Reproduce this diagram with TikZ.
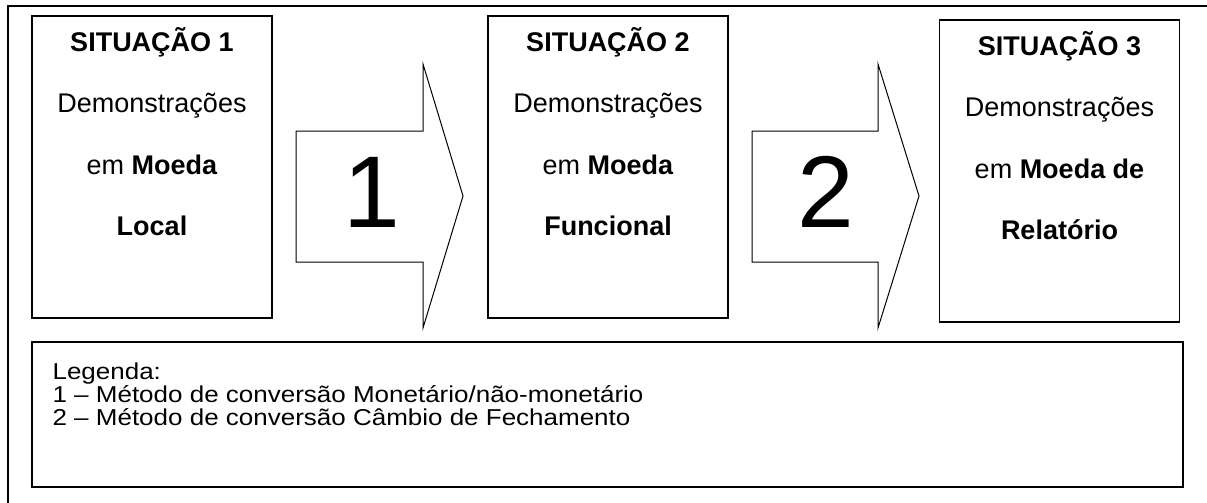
\documentclass[tikz,border=0pt]{standalone}
\usepackage{fontspec}
\setmainfont{Liberation Sans}
\usetikzlibrary{positioning}
\tikzset{caixa/.style={draw,line width=1.3pt,inner sep=0pt,outer sep=0pt,minimum width=240pt,minimum height=302pt}}
\tikzset{textocaixa/.style={align=center,inner sep=0pt,font=\fontsize{27}{61.5}\selectfont}}
\tikzset{seta/.style={draw,line width=1pt,line join=miter}}
\tikzset{numero/.style={inner sep=0pt,font=\fontsize{102}{110}\selectfont}}

\begin{document}
\begin{tikzpicture}[x=1pt,y=-1pt]
            \useasboundingbox (0,0) rectangle (1207,503);
            \draw[line width=1.3pt] (8,503) -- (8,6) -- (1207,6);

            \node[caixa] (s1) at (152,167) {};
            \node[caixa] (s2) at (608,167) {};
            \node[caixa] (s3) at (1059.5,171) {};

            \node[textocaixa,below=11pt of s1.north] (t1) {\textbf{SITUAÇÃO 1}\\Demonstrações\\em \textbf{Moeda}\\\textbf{Local}};
            \node[textocaixa,below=11pt of s2.north] (t2) {\textbf{SITUAÇÃO 2}\\Demonstrações\\em \textbf{Moeda}\\\textbf{Funcional}};
            \node[textocaixa,below=11pt of s3.north] (t3) {\textbf{SITUAÇÃO 3}\\Demonstrações\\em \textbf{Moeda de}\\\textbf{Relatório}};

            \draw[seta] (296,131) -- (423,131) -- (423,64) -- (463,196) -- (423,328) -- (423,262) -- (296,262) -- cycle;
            \draw[seta] (752,131) -- (878,131) -- (878,64) -- (919,196) -- (878,328) -- (878,262) -- (752,262) -- cycle;
            \node[numero] (n1) at (372,192) {1};
            \node[numero] (n2) at (826,192) {2};

            \node[draw,line width=1.3pt,inner sep=0pt,minimum width=1151pt,minimum height=145pt] (leg) at (607.5,414.5) {};
            \node[align=left,inner sep=0pt,anchor=north west,xscale=1.13,transform shape,font=\fontsize{23}{23}\selectfont] (tleg) at ([xshift=21pt,yshift=-21pt]leg.north west)
                {Legenda:\\1 – Método de conversão Monetário/não-monetário\\2 – Método de conversão Câmbio de Fechamento};
        \end{tikzpicture}
\end{document}
